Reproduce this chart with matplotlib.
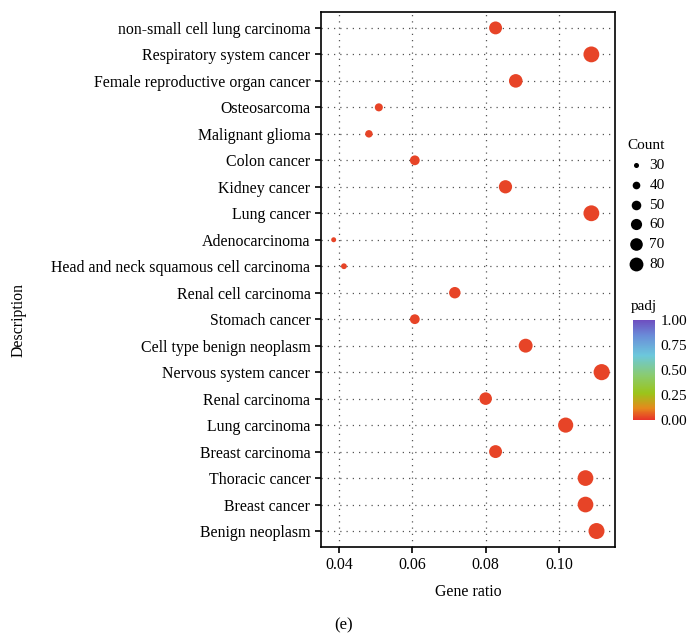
import numpy as np
import matplotlib
matplotlib.use("Agg")
import matplotlib.pyplot as plt
from matplotlib.colors import LinearSegmentedColormap, Normalize

plt.rcParams['font.family'] = ['Liberation Serif', 'DejaVu Serif']

# datos (de arriba hacia abajo)
terms = [
    "non-small cell lung carcinoma", "Respiratory system cancer",
    "Female reproductive organ cancer", "Osteosarcoma", "Malignant glioma",
    "Colon cancer", "Kidney cancer", "Lung cancer", "Adenocarcinoma",
    "Head and neck squamous cell carcinoma", "Renal cell carcinoma",
    "Stomach cancer", "Cell type benign neoplasm", "Nervous system cancer",
    "Renal carcinoma", "Lung carcinoma", "Breast carcinoma",
    "Thoracic cancer", "Breast cancer", "Benign neoplasm",
]
gene_ratio = [0.0827, 0.1088, 0.0882, 0.0509, 0.0482, 0.0607, 0.0854, 0.1088,
              0.0386, 0.0414, 0.0716, 0.0607, 0.0909, 0.1116, 0.0800, 0.1018,
              0.0827, 0.1072, 0.1072, 0.1102]
counts = [60, 79, 64, 37, 35, 44, 62, 79, 28, 30, 52, 44, 66, 81, 58, 74,
          60, 78, 78, 80]
padj = [0.03] * 20
legend_counts = [30, 40, 50, 60, 70, 80]


def size_of(c):
    return 2.3 * (np.asarray(c, dtype=float) - 22.4)


cmap = LinearSegmentedColormap.from_list("padj", [
    (0.0, "#E8302A"), (0.12, "#E5891C"), (0.27, "#9BC41A"),
    (0.45, "#8ACB70"), (0.65, "#6CC8DC"), (0.85, "#6A8CD8"), (1.0, "#6E4FC0"),
])
norm = Normalize(0, 1)

fig = plt.figure(figsize=(6.87, 6.33), dpi=100)
ax = fig.add_axes([0.467, 0.136, 0.428, 0.845])

ypos = np.arange(len(terms))[::-1]
ax.scatter(gene_ratio, ypos, s=size_of(counts), c=padj, cmap=cmap, norm=norm,
           zorder=3, linewidths=0)

ax.set_yticks(ypos)
ax.set_yticklabels(terms, fontsize=11.4)
ax.set_ylim(-0.6, len(terms) - 0.4)
ax.set_xlim(0.0351, 0.1152)
ax.set_xticks([0.04, 0.06, 0.08, 0.10])
ax.set_xticklabels(["0.04", "0.06", "0.08", "0.10"], fontsize=11.4)
ax.grid(True, linestyle=(0, (1, 4)), color="#555555", linewidth=0.9)
ax.set_axisbelow(True)
for sp in ax.spines.values():
    sp.set_linewidth(1.2)
ax.tick_params(axis="both", length=4, width=1.2)

ax.set_xlabel("Gene ratio", fontsize=11.4, labelpad=8)
fig.text(0.027, 0.494, "Description", rotation=90, ha="center", va="center",
         fontsize=11.4)
fig.text(0.5, 0.0, "(e)", ha="center", va="bottom", fontsize=12)

# leyenda de tamaños
handles = [ax.scatter([], [], s=0.75 * size_of(c), color="black", linewidths=0)
           for c in legend_counts]
fig.legend(handles, [str(c) for c in legend_counts], title="Count",
           loc="upper left", bbox_to_anchor=(0.912, 0.78), frameon=False,
           fontsize=11, title_fontsize=11, handletextpad=0.3,
           labelspacing=0.4, borderaxespad=0, borderpad=0, handlelength=1.2)

# barra de color
cax = fig.add_axes([0.921, 0.336, 0.032, 0.158])
sm = plt.cm.ScalarMappable(norm=norm, cmap=cmap)
cb = fig.colorbar(sm, cax=cax, ticks=[0, 0.25, 0.5, 0.75, 1.0])
cb.ax.set_yticklabels(["0.00", "0.25", "0.50", "0.75", "1.00"], fontsize=11)
cb.outline.set_visible(False)
cb.ax.tick_params(length=3, color="white", width=1, pad=1)
fig.text(0.918, 0.505, "padj", ha="left", va="bottom", fontsize=11)

fig.savefig("out.png", dpi=100)
